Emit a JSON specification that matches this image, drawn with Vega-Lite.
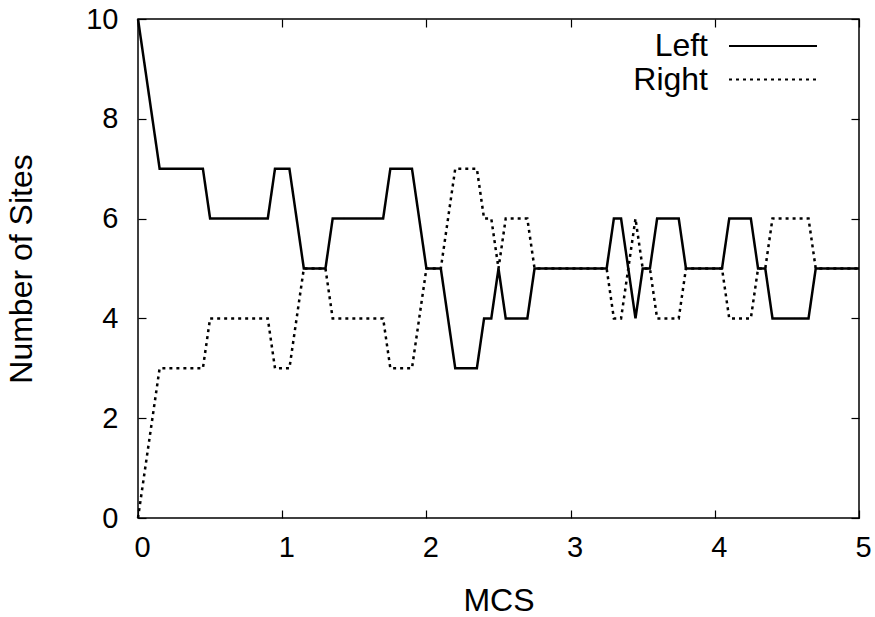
{
  "$schema": "https://vega.github.io/schema/vega-lite/v6.json",
  "width": 721,
  "height": 499,
  "autosize": "none",
  "padding": {"left": 138, "top": 19, "right": 16, "bottom": 99},
  "background": "white",
  "config": {
    "font": "Liberation Sans",
    "view": {"stroke": "black", "strokeWidth": 1.5},
    "axis": {
      "grid": false,
      "domain": false,
      "tickColor": "black",
      "tickWidth": 1.2,
      "tickSize": -8,
      "labelFlush": false,
      "labelColor": "black",
      "labelFont": "Liberation Sans",
      "labelFontSize": 29,
      "titleColor": "black",
      "titleFont": "Liberation Sans",
      "titleFontSize": 32,
      "titleFontWeight": "normal"
    }
  },
  "data": {
    "values": [
      {"mcs": 0, "series": "Left", "sites": 10},
      {"mcs": 0.15, "series": "Left", "sites": 7},
      {"mcs": 0.45, "series": "Left", "sites": 7},
      {"mcs": 0.5, "series": "Left", "sites": 6},
      {"mcs": 0.9, "series": "Left", "sites": 6},
      {"mcs": 0.95, "series": "Left", "sites": 7},
      {"mcs": 1.05, "series": "Left", "sites": 7},
      {"mcs": 1.15, "series": "Left", "sites": 5},
      {"mcs": 1.3, "series": "Left", "sites": 5},
      {"mcs": 1.35, "series": "Left", "sites": 6},
      {"mcs": 1.7, "series": "Left", "sites": 6},
      {"mcs": 1.75, "series": "Left", "sites": 7},
      {"mcs": 1.9, "series": "Left", "sites": 7},
      {"mcs": 2.0, "series": "Left", "sites": 5},
      {"mcs": 2.1, "series": "Left", "sites": 5},
      {"mcs": 2.2, "series": "Left", "sites": 3},
      {"mcs": 2.35, "series": "Left", "sites": 3},
      {"mcs": 2.4, "series": "Left", "sites": 4},
      {"mcs": 2.45, "series": "Left", "sites": 4},
      {"mcs": 2.5, "series": "Left", "sites": 5},
      {"mcs": 2.55, "series": "Left", "sites": 4},
      {"mcs": 2.7, "series": "Left", "sites": 4},
      {"mcs": 2.75, "series": "Left", "sites": 5},
      {"mcs": 3.25, "series": "Left", "sites": 5},
      {"mcs": 3.3, "series": "Left", "sites": 6},
      {"mcs": 3.35, "series": "Left", "sites": 6},
      {"mcs": 3.45, "series": "Left", "sites": 4},
      {"mcs": 3.5, "series": "Left", "sites": 5},
      {"mcs": 3.55, "series": "Left", "sites": 5},
      {"mcs": 3.6, "series": "Left", "sites": 6},
      {"mcs": 3.75, "series": "Left", "sites": 6},
      {"mcs": 3.8, "series": "Left", "sites": 5},
      {"mcs": 4.05, "series": "Left", "sites": 5},
      {"mcs": 4.1, "series": "Left", "sites": 6},
      {"mcs": 4.25, "series": "Left", "sites": 6},
      {"mcs": 4.3, "series": "Left", "sites": 5},
      {"mcs": 4.35, "series": "Left", "sites": 5},
      {"mcs": 4.4, "series": "Left", "sites": 4},
      {"mcs": 4.65, "series": "Left", "sites": 4},
      {"mcs": 4.7, "series": "Left", "sites": 5},
      {"mcs": 5.0, "series": "Left", "sites": 5},
      {"mcs": 0, "series": "Right", "sites": 0},
      {"mcs": 0.15, "series": "Right", "sites": 3},
      {"mcs": 0.45, "series": "Right", "sites": 3},
      {"mcs": 0.5, "series": "Right", "sites": 4},
      {"mcs": 0.9, "series": "Right", "sites": 4},
      {"mcs": 0.95, "series": "Right", "sites": 3},
      {"mcs": 1.05, "series": "Right", "sites": 3},
      {"mcs": 1.15, "series": "Right", "sites": 5},
      {"mcs": 1.3, "series": "Right", "sites": 5},
      {"mcs": 1.35, "series": "Right", "sites": 4},
      {"mcs": 1.7, "series": "Right", "sites": 4},
      {"mcs": 1.75, "series": "Right", "sites": 3},
      {"mcs": 1.9, "series": "Right", "sites": 3},
      {"mcs": 2.0, "series": "Right", "sites": 5},
      {"mcs": 2.1, "series": "Right", "sites": 5},
      {"mcs": 2.2, "series": "Right", "sites": 7},
      {"mcs": 2.35, "series": "Right", "sites": 7},
      {"mcs": 2.4, "series": "Right", "sites": 6},
      {"mcs": 2.45, "series": "Right", "sites": 6},
      {"mcs": 2.5, "series": "Right", "sites": 5},
      {"mcs": 2.55, "series": "Right", "sites": 6},
      {"mcs": 2.7, "series": "Right", "sites": 6},
      {"mcs": 2.75, "series": "Right", "sites": 5},
      {"mcs": 3.25, "series": "Right", "sites": 5},
      {"mcs": 3.3, "series": "Right", "sites": 4},
      {"mcs": 3.35, "series": "Right", "sites": 4},
      {"mcs": 3.45, "series": "Right", "sites": 6},
      {"mcs": 3.5, "series": "Right", "sites": 5},
      {"mcs": 3.55, "series": "Right", "sites": 5},
      {"mcs": 3.6, "series": "Right", "sites": 4},
      {"mcs": 3.75, "series": "Right", "sites": 4},
      {"mcs": 3.8, "series": "Right", "sites": 5},
      {"mcs": 4.05, "series": "Right", "sites": 5},
      {"mcs": 4.1, "series": "Right", "sites": 4},
      {"mcs": 4.25, "series": "Right", "sites": 4},
      {"mcs": 4.3, "series": "Right", "sites": 5},
      {"mcs": 4.35, "series": "Right", "sites": 5},
      {"mcs": 4.4, "series": "Right", "sites": 6},
      {"mcs": 4.65, "series": "Right", "sites": 6},
      {"mcs": 4.7, "series": "Right", "sites": 5},
      {"mcs": 5.0, "series": "Right", "sites": 5}
    ]
  },
  "resolve": {"axis": {"x": "independent", "y": "independent"}},
  "layer": [
    {
      "mark": {"type": "line", "color": "black", "strokeWidth": 2.5, "strokeCap": "butt", "strokeJoin": "miter"},
      "encoding": {
        "x": {
          "field": "mcs", "type": "quantitative",
          "scale": {"domain": [0, 5], "nice": false, "zero": false},
          "axis": {"orient": "bottom", "title": "MCS", "values": [0, 1, 2, 3, 4, 5], "format": "d", "labelPadding": 23, "labelOffset": 4, "titleY": 82, "titleBaseline": "middle"}
        },
        "y": {
          "field": "sites", "type": "quantitative",
          "scale": {"domain": [0, 10], "nice": false},
          "axis": {"orient": "left", "title": "Number of Sites", "values": [0, 2, 4, 6, 8, 10], "format": "d", "labelPadding": 28, "titleX": -117, "titleY": 249.5, "titleAngle": -90, "titleAlign": "center", "titleBaseline": "middle"}
        },
        "strokeDash": {
          "field": "series", "type": "nominal",
          "scale": {"domain": ["Left", "Right"], "range": [[1, 0], [3, 4]]},
          "legend": {
            "title": null,
            "orient": "none",
            "legendX": 575,
            "legendY": 11,
            "symbolType": "M0,0H16",
            "symbolSize": 121,
            "symbolStrokeWidth": 2.2,
            "symbolStrokeColor": "black",
            "symbolFillColor": "transparent",
            "labelAlign": "right",
            "labelOffset": -37,
            "labelFontSize": 32,
            "labelColor": "black",
            "labelFont": "Liberation Sans",
            "rowPadding": 1.5
          }
        }
      }
    },
    {
      "mark": {"type": "line", "opacity": 0},
      "encoding": {
        "x": {
          "field": "mcs", "type": "quantitative",
          "axis": {"orient": "top", "title": null, "labels": false, "values": [0, 1, 2, 3, 4, 5]}
        },
        "y": {
          "field": "sites", "type": "quantitative",
          "axis": {"orient": "right", "title": null, "labels": false, "values": [0, 2, 4, 6, 8, 10]}
        },
        "detail": {"field": "series", "type": "nominal"}
      }
    }
  ]
}
